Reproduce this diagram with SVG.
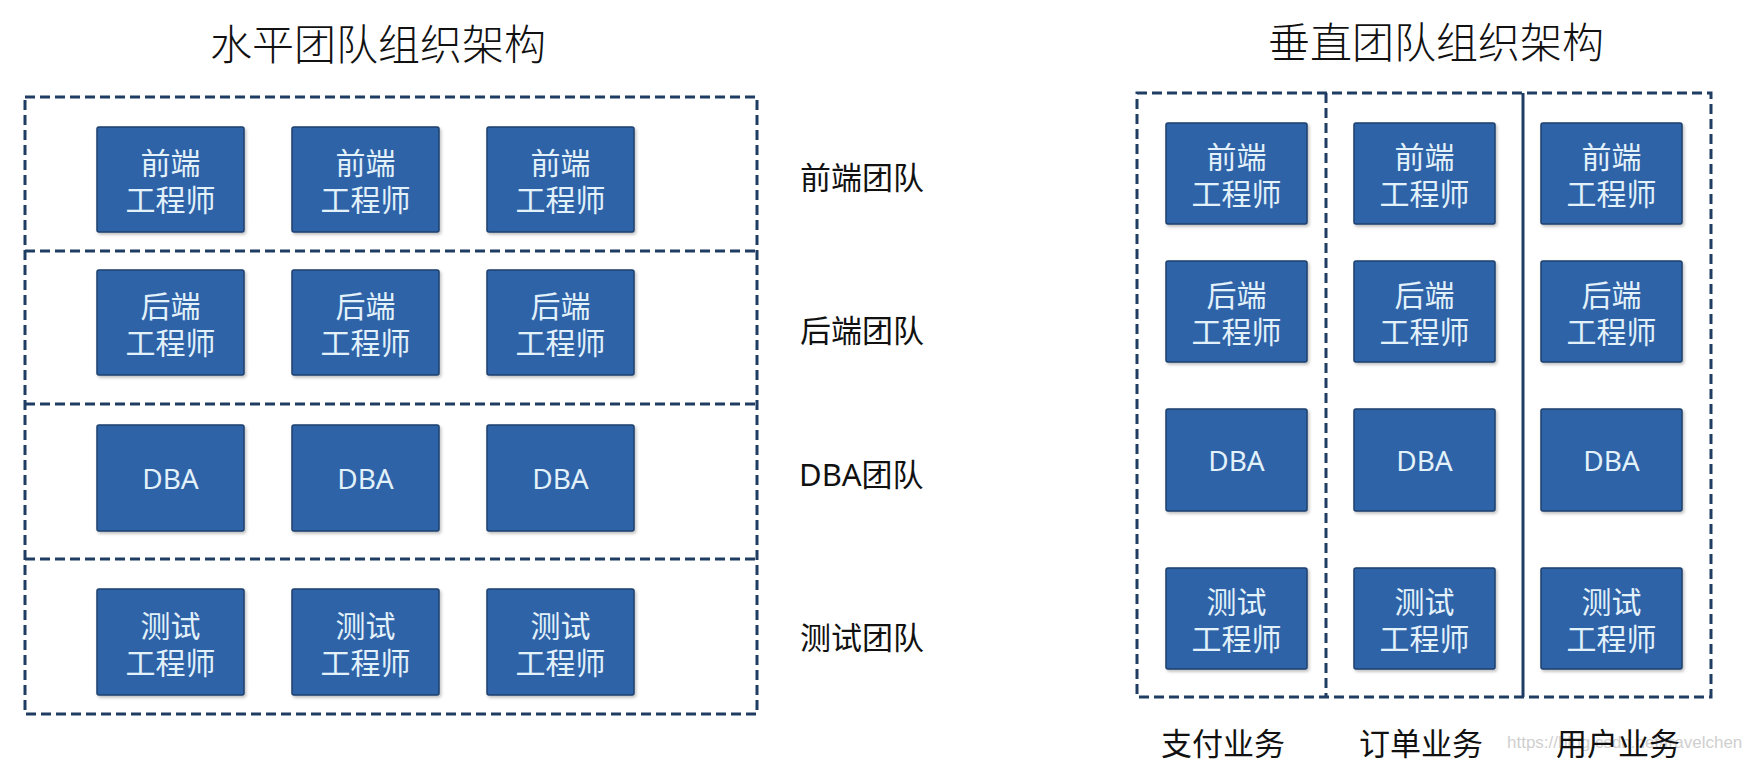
<svg xmlns="http://www.w3.org/2000/svg" width="1747" height="762" viewBox="0 0 1747 762">
<defs>
<filter id="sh" x="-10%" y="-10%" width="130%" height="130%">
<feDropShadow dx="1.5" dy="2" stdDeviation="1.5" flood-color="#000" flood-opacity="0.25"/>
</filter>
</defs>
<style>
.bg{fill:#ffffff}
.frame{fill:none;stroke:#1f3d62;stroke-width:3;stroke-dasharray:10 5}
.solid{fill:none;stroke:#1f3d62;stroke-width:3}
.box{fill:#2f64a8;stroke:#1c3f6e;stroke-width:1.5;filter:url(#sh)}
.bt{fill:#e2f1fa;font-family:"Noto Sans CJK SC","Noto Sans",sans-serif;font-size:30px;text-anchor:middle;dominant-baseline:central}
.dba{fill:#e2f1fa;font-family:"Noto Sans","Liberation Sans",sans-serif;font-size:28px;text-anchor:middle;dominant-baseline:central}
.title{fill:#111;font-family:"Noto Sans CJK SC",sans-serif;font-weight:300;font-size:42px;text-anchor:middle;dominant-baseline:central}
.lab{fill:#111;font-family:"Noto Sans","Noto Sans CJK SC",sans-serif;font-size:31px;dominant-baseline:central}
.labc{fill:#111;font-family:"Noto Sans CJK SC",sans-serif;font-size:31px;text-anchor:middle;dominant-baseline:central}
.wm{fill:#cfcfcf;font-family:"Liberation Sans",sans-serif;font-size:17px}
</style>
<rect class="bg" x="0" y="0" width="1747" height="762"/>

<g id="titles">
<text class="title" x="378" y="41">水平团队组织架构</text>
<text class="title" x="1436" y="39">垂直团队组织架构</text>
</g>

<g id="connectors">
<rect class="frame" x="25" y="97" width="732" height="617"/>
<line class="frame" x1="25" y1="251" x2="757" y2="251"/>
<line class="frame" x1="25" y1="404" x2="757" y2="404"/>
<line class="frame" x1="25" y1="559" x2="757" y2="559"/>
<rect class="frame" x="1137" y="93" width="574" height="604"/>
<line class="frame" x1="1326" y1="93" x2="1326" y2="697"/>
<line class="solid" x1="1523" y1="93" x2="1523" y2="697"/>
</g>

<g id="h-labels">
<text class="lab" x="800" y="177">前端团队</text>
<text class="lab" x="800" y="330">后端团队</text>
<text class="lab" x="799" y="474">DBA团队</text>
<text class="lab" x="800" y="637">测试团队</text>
</g>

<g id="h-fe-1"><rect class="box" x="97" y="127" width="147" height="105" rx="2"/><text class="bt" x="170.5" y="161">前端</text><text class="bt" x="170.5" y="198">工程师</text></g>
<g id="h-fe-2"><rect class="box" x="292" y="127" width="147" height="105" rx="2"/><text class="bt" x="365.5" y="161">前端</text><text class="bt" x="365.5" y="198">工程师</text></g>
<g id="h-fe-3"><rect class="box" x="487" y="127" width="147" height="105" rx="2"/><text class="bt" x="560.5" y="161">前端</text><text class="bt" x="560.5" y="198">工程师</text></g>

<g id="h-be-1"><rect class="box" x="97" y="270" width="147" height="105" rx="2"/><text class="bt" x="170.5" y="304">后端</text><text class="bt" x="170.5" y="341">工程师</text></g>
<g id="h-be-2"><rect class="box" x="292" y="270" width="147" height="105" rx="2"/><text class="bt" x="365.5" y="304">后端</text><text class="bt" x="365.5" y="341">工程师</text></g>
<g id="h-be-3"><rect class="box" x="487" y="270" width="147" height="105" rx="2"/><text class="bt" x="560.5" y="304">后端</text><text class="bt" x="560.5" y="341">工程师</text></g>

<g id="h-dba-1"><rect class="box" x="97" y="425" width="147" height="106" rx="2"/><text class="dba" x="170.5" y="478">DBA</text></g>
<g id="h-dba-2"><rect class="box" x="292" y="425" width="147" height="106" rx="2"/><text class="dba" x="365.5" y="478">DBA</text></g>
<g id="h-dba-3"><rect class="box" x="487" y="425" width="147" height="106" rx="2"/><text class="dba" x="560.5" y="478">DBA</text></g>

<g id="h-qa-1"><rect class="box" x="97" y="589" width="147" height="106" rx="2"/><text class="bt" x="170.5" y="624">测试</text><text class="bt" x="170.5" y="661">工程师</text></g>
<g id="h-qa-2"><rect class="box" x="292" y="589" width="147" height="106" rx="2"/><text class="bt" x="365.5" y="624">测试</text><text class="bt" x="365.5" y="661">工程师</text></g>
<g id="h-qa-3"><rect class="box" x="487" y="589" width="147" height="106" rx="2"/><text class="bt" x="560.5" y="624">测试</text><text class="bt" x="560.5" y="661">工程师</text></g>

<g id="v-fe-1"><rect class="box" x="1166" y="123" width="141" height="101" rx="2"/><text class="bt" x="1236.5" y="155">前端</text><text class="bt" x="1236.5" y="192">工程师</text></g>
<g id="v-fe-2"><rect class="box" x="1354" y="123" width="141" height="101" rx="2"/><text class="bt" x="1424.5" y="155">前端</text><text class="bt" x="1424.5" y="192">工程师</text></g>
<g id="v-fe-3"><rect class="box" x="1541" y="123" width="141" height="101" rx="2"/><text class="bt" x="1611.5" y="155">前端</text><text class="bt" x="1611.5" y="192">工程师</text></g>

<g id="v-be-1"><rect class="box" x="1166" y="261" width="141" height="101" rx="2"/><text class="bt" x="1236.5" y="293">后端</text><text class="bt" x="1236.5" y="330">工程师</text></g>
<g id="v-be-2"><rect class="box" x="1354" y="261" width="141" height="101" rx="2"/><text class="bt" x="1424.5" y="293">后端</text><text class="bt" x="1424.5" y="330">工程师</text></g>
<g id="v-be-3"><rect class="box" x="1541" y="261" width="141" height="101" rx="2"/><text class="bt" x="1611.5" y="293">后端</text><text class="bt" x="1611.5" y="330">工程师</text></g>

<g id="v-dba-1"><rect class="box" x="1166" y="409" width="141" height="102" rx="2"/><text class="dba" x="1236.5" y="460">DBA</text></g>
<g id="v-dba-2"><rect class="box" x="1354" y="409" width="141" height="102" rx="2"/><text class="dba" x="1424.5" y="460">DBA</text></g>
<g id="v-dba-3"><rect class="box" x="1541" y="409" width="141" height="102" rx="2"/><text class="dba" x="1611.5" y="460">DBA</text></g>

<g id="v-qa-1"><rect class="box" x="1166" y="568" width="141" height="101" rx="2"/><text class="bt" x="1236.5" y="600">测试</text><text class="bt" x="1236.5" y="637">工程师</text></g>
<g id="v-qa-2"><rect class="box" x="1354" y="568" width="141" height="101" rx="2"/><text class="bt" x="1424.5" y="600">测试</text><text class="bt" x="1424.5" y="637">工程师</text></g>
<g id="v-qa-3"><rect class="box" x="1541" y="568" width="141" height="101" rx="2"/><text class="bt" x="1611.5" y="600">测试</text><text class="bt" x="1611.5" y="637">工程师</text></g>

<g id="v-labels">
<text class="labc" x="1223" y="741">支付业务</text>
<text class="labc" x="1421" y="741">订单业务</text>
<text class="wm" x="1507" y="748">https://blog.csdn.net/travelchen</text>
<text class="labc" x="1618" y="741">用户业务</text>
</g>
</svg>
